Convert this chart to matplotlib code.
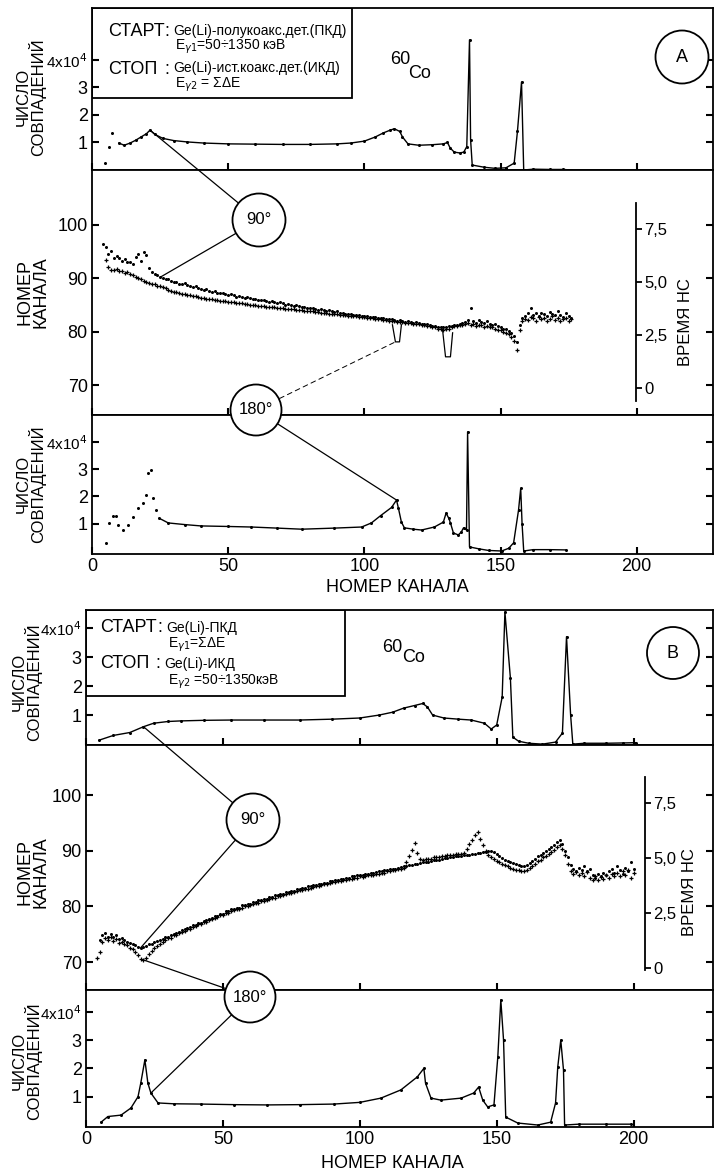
import numpy as np
import matplotlib
matplotlib.use('Agg')
import matplotlib.pyplot as plt
from matplotlib.patches import Circle, Rectangle, ConnectionPatch

plt.rcParams['font.family'] = ['Liberation Sans', 'DejaVu Sans']

W, H = 717, 1176

# ---------------- data ----------------
# panel A, upper: coincidence counts (x10^4) vs channel, 90 deg
a90_cnt_ch = [4.8, 6.3, 7.4, 9.9, 11.8, 14, 16, 18, 20, 21.3, 23, 26, 30, 35, 41, 50, 60, 70,
              80, 90, 95, 100, 104, 107, 109.5, 111, 113, 114, 116, 120, 125, 129, 130.5,
              131.5, 133, 135, 136.5, 137.6, 138.6, 139.0, 139.6, 144, 148, 152, 155, 156.2,
              157.7, 158.5, 162, 168, 173, 176]
a90_cnt = [0.25, 0.85, 1.35, 0.98, 0.9, 0.98, 1.08, 1.2, 1.32, 1.45, 1.3, 1.15, 1.07, 1.02,
           0.98, 0.95, 0.94, 0.93, 0.93, 0.95, 0.98, 1.05, 1.2, 1.35, 1.45, 1.5, 1.4, 1.2,
           0.95, 0.9, 0.92, 0.95, 1.0, 0.8, 0.65, 0.62, 0.65, 0.85, 4.73, 1.1, 0.18, 0.1,
           0.06, 0.08, 0.25, 1.4, 3.2, 0.0, 0.03, 0.02, 0.02, 0.0]

# panel A, lower: coincidence counts, 180 deg
a180_cnt_ch = [5.1, 6.3, 7.6, 8.8, 9.5, 11.3, 13.1, 15.0, 16.8, 18.7, 19.8, 20.5, 21.7, 22.4,
               23.5, 24.7, 28, 34, 40, 50, 58.5, 68, 77, 89, 99, 102.6, 106, 110, 111.8,
               112.5, 113.6, 114.7, 118, 121, 125.7, 129, 130, 131, 131.6, 132.7, 134.5,
               135.6, 136.4, 137.5, 137.9, 138.6, 142, 145.6, 150.4, 153, 154.8, 156.6,
               157.4, 157.9, 158.5, 162, 168, 174]
a180_cnt = [0.3, 1.03, 1.3, 1.3, 0.95, 0.77, 0.95, 1.25, 1.57, 1.75, 2.05, 2.85, 2.97, 1.95,
            1.5, 1.2, 1.03, 0.97, 0.92, 0.9, 0.88, 0.84, 0.8, 0.84, 0.88, 1.03, 1.3, 1.6,
            1.87, 1.57, 1.06, 0.85, 0.8, 0.77, 0.88, 1.06, 1.39, 1.2, 1.03, 0.66, 0.59, 0.7,
            0.85, 0.77, 4.37, 0.15, 0.08, 0.02, 0.0, 0.1, 0.3, 1.5, 2.3, 1.0, 0.0, 0.05,
            0.05, 0.04]

# panel A, middle: channel number of time peak vs channel
a90_t_start = 4
a90_t = [96.5, 95.8, 94.5, 95.2, 93.9, 94.2, 93.8, 93.3, 93.6, 93.1,
         93.0, 92.6, 94.0, 94.6, 93.2, 95.0, 94.4, 92.0, 91.2, 90.8,
         90.6, 90.2, 90.0, 89.9, 89.8, 89.5, 89.3, 89.4, 89.0, 88.9,
         89.1, 88.8, 88.5, 88.4, 88.6, 88.1, 88.0, 87.9, 88.0, 87.6,
         87.5, 87.6, 87.3, 87.2, 87.3, 87.0, 86.9, 87.0, 86.8, 86.6,
         86.7, 86.5, 86.4, 86.5, 86.3, 86.1, 86.2, 86.0, 85.9, 86.0,
         85.8, 85.6, 85.7, 85.5, 85.4, 85.5, 85.3, 85.1, 85.2, 85.0,
         84.9, 85.0, 84.8, 84.6, 84.7, 84.5, 84.4, 84.5, 84.2, 84.1,
         84.2, 84.0, 83.9, 84.0, 83.8, 83.7, 83.8, 83.5, 83.6, 83.4,
         83.3, 83.4, 83.2, 83.1, 83.2, 83.0, 82.9, 83.0, 82.8, 82.7,
         82.8, 82.6, 82.5, 82.6, 82.4, 82.3, 82.4, 82.2, 82.1, 82.2,
         82.0, 81.9, 82.0, 81.8, 81.7, 81.8, 81.6, 81.5, 81.4, 81.5,
         81.2, 81.1, 81.0, 80.9, 80.8, 80.9, 80.8, 81.0, 81.1, 81.3,
         81.2, 81.4, 81.6, 81.8, 82.2, 84.5, 82.0, 81.7, 82.2, 81.9,
         81.6, 82.0, 81.5, 81.3, 81.4, 81.0, 80.9, 80.6, 80.5, 80.2,
         79.8, 79.2, 78.0, 81.2, 82.6, 83.0, 83.6, 84.4, 83.2, 83.5,
         82.9, 83.6, 83.3, 83.0, 83.7, 83.4, 83.1, 83.8, 83.2, 82.8,
         83.5, 82.9, 82.6]
a180_t_start = 5
a180_t = [93.4, 92.2, 91.5, 91.6, 91.8, 91.3, 91.4, 91.0, 91.1, 90.8,
          90.6, 90.3, 90.0, 89.8, 89.5, 89.4, 89.2, 89.0, 88.9, 88.6,
          88.5, 88.3, 88.1, 87.9, 87.7, 87.5, 87.5, 87.3, 87.1, 87.1,
          86.9, 86.8, 86.7, 86.7, 86.5, 86.4, 86.4, 86.2, 86.1, 86.1,
          85.9, 85.9, 85.8, 85.7, 85.7, 85.6, 85.5, 85.5, 85.4, 85.4,
          85.3, 85.2, 85.2, 85.1, 85.0, 85.0, 84.9, 84.9, 84.8, 84.7,
          84.7, 84.6, 84.6, 84.5, 84.5, 84.4, 84.3, 84.3, 84.2, 84.2,
          84.1, 84.0, 84.0, 83.9, 83.9, 83.8, 83.8, 83.7, 83.7, 83.6,
          83.5, 83.5, 83.4, 83.4, 83.3, 83.3, 83.2, 83.2, 83.1, 83.0,
          83.0, 82.9, 82.9, 82.8, 82.7, 82.7, 82.6, 82.6, 82.5, 82.4,
          82.4, 82.3, 82.2, 82.2, 82.1, 82.0, 82.0, 81.9, 81.9, 81.8,
          81.7, 81.7, 81.6, 81.5, 81.5, 81.4, 81.3, 81.2, 81.1, 81.0,
          80.9, 80.8, 80.6, 80.5, 80.4, 80.5, 80.6, 80.8, 81.0, 81.1,
          81.2, 81.3, 81.5, 81.6, 81.2, 81.5, 81.0, 81.3, 81.2, 80.9,
          81.1, 80.8, 80.9, 80.6, 80.4, 80.3, 80.0, 79.8, 79.5, 79.0,
          78.3, 76.6, 80.4, 82.0, 82.4, 82.2, 82.8, 82.5, 82.1, 82.7,
          82.3, 82.6, 82.0, 82.4, 82.9, 82.2, 82.5, 82.0, 82.3, 82.6,
          82.1, 82.4]
# the two V-shaped dips drawn as lines
a_dip1_ch = [110.3, 111.4, 112.9, 113.6]
a_dip1_t = [81.3, 78.1, 78.1, 81.3]
a_dip2_ch = [128.7, 129.8, 131.6, 132.4]
a_dip2_t = [80.4, 75.3, 75.3, 79.8]

# panel B, upper: coincidence counts, 90 deg
b90_cnt_ch = [4.9, 10, 16, 21, 24.7, 30, 34.6, 43, 53, 65, 78, 90, 100, 107, 112, 116, 120,
              123, 124.7, 126.6, 130.7, 136, 140.7, 145.5, 148, 150, 152, 153, 155, 155.9,
              158, 161.7, 166.7, 171.5, 174, 175.5, 177, 177.8, 182, 190, 196, 201]
b90_cnt = [0.14, 0.3, 0.4, 0.6, 0.72, 0.78, 0.8, 0.82, 0.83, 0.83, 0.83, 0.86, 0.9, 1.0, 1.1,
           1.24, 1.33, 1.4, 1.28, 1.0, 0.9, 0.86, 0.83, 0.72, 0.52, 0.66, 1.62, 4.55, 2.28,
           0.24, 0.1, 0.03, 0.0, 0.07, 0.38, 3.7, 1.0, 0.0, 0.03, 0.03, 0.04, 0.05]

# panel B, lower: coincidence counts, 180 deg
b180_cnt_ch = [5.5, 8, 12.8, 16.4, 19, 20, 21.5, 22.6, 23.7, 26.3, 32, 42, 54, 66, 78, 90.5,
               100, 107.7, 115, 121, 123.4, 124, 126, 129.6, 137, 141.6, 143.4, 144.9, 146.7,
               149, 150.4, 151.5, 152.5, 153.3, 157.7, 165, 169.7, 171.5, 172.3, 173.4,
               174.4, 174.8, 180, 190, 199]
b180_cnt = [0.1, 0.3, 0.35, 0.6, 1.0, 1.48, 2.3, 1.48, 1.13, 0.78, 0.75, 0.74, 0.72, 0.71,
            0.72, 0.74, 0.8, 0.95, 1.24, 1.7, 2.0, 1.48, 0.95, 0.88, 0.95, 1.13, 1.34, 0.88,
            0.64, 0.71, 2.4, 4.42, 3.0, 0.28, 0.07, 0.0, 0.1, 0.78, 2.05, 3.0, 1.94, 0.0,
            0.03, 0.03, 0.03]

# panel B, middle
b90_t_start = 5
b90_t = [74.0, 74.9, 75.3, 74.6, 75.1, 74.5, 74.8, 74.2, 74.4, 73.9,
         73.7, 73.5, 73.2, 73.0, 72.8, 72.6, 72.8, 72.9, 73.2, 73.3,
         73.6, 73.8, 74.0, 74.2, 74.5, 74.6, 74.9, 75.0, 75.3, 75.4,
         75.7, 75.9, 76.1, 76.3, 76.6, 76.7, 77.0, 77.1, 77.4, 77.5,
         77.8, 77.9, 78.3, 78.3, 78.7, 78.7, 79.1, 79.1, 79.5, 79.5,
         79.8, 79.8, 80.2, 80.2, 80.5, 80.5, 80.8, 80.8, 81.1, 81.1,
         81.4, 81.4, 81.7, 81.7, 82.0, 82.0, 82.3, 82.3, 82.6, 82.6,
         82.8, 82.8, 83.1, 83.1, 83.4, 83.4, 83.6, 83.6, 83.9, 83.9,
         84.1, 84.1, 84.3, 84.3, 84.6, 84.6, 84.8, 84.8, 85.0, 85.0,
         85.2, 85.2, 85.4, 85.4, 85.6, 85.6, 85.7, 85.8, 85.9, 86.0,
         86.1, 86.2, 86.3, 86.4, 86.5, 86.6, 86.7, 86.8, 86.8, 87.0,
         87.1, 87.2, 87.2, 87.4, 87.5, 87.6, 87.6, 87.8, 87.9, 88.0,
         88.0, 88.2, 88.3, 88.4, 88.4, 88.6, 88.7, 88.7, 88.8, 88.9,
         89.0, 89.0, 89.1, 89.2, 89.3, 89.3, 89.4, 89.5, 89.6, 89.6,
         89.7, 89.8, 89.9, 90.0, 89.8, 89.5, 89.1, 88.7, 88.4, 88.2,
         88.0, 87.8, 87.6, 87.4, 87.3, 87.2, 87.4, 87.8, 88.2, 88.6,
         89.0, 89.3, 89.6, 89.9, 90.3, 90.7, 91.1, 91.5, 91.9, 91.2,
         90.0, 88.8, 87.4, 86.8, 86.4, 86.9, 86.6, 87.2, 86.3, 86.7,
         85.6, 85.2, 85.9, 85.4, 86.1, 85.7, 86.3, 86.8, 86.0, 87.2,
         86.5, 85.9, 87.0, 86.4, 88.0, 86.8]
b180_t_start = 4
b180_t = [70.7, 71.8, 73.6, 74.4, 74.0, 74.6, 73.8, 74.1, 73.5, 73.7,
          73.2, 73.0, 72.6, 72.3, 71.8, 71.2, 70.6, 70.4, 70.7, 71.4,
          72.0, 72.5, 72.9, 73.3, 73.6, 73.9, 74.3, 74.4, 74.8, 74.9,
          75.2, 75.4, 75.6, 75.9, 76.0, 76.4, 76.5, 76.8, 76.9, 77.2,
          77.3, 77.6, 77.7, 78.0, 78.1, 78.4, 78.5, 78.8, 78.9, 79.2,
          79.3, 79.5, 79.6, 79.8, 80.0, 80.1, 80.3, 80.4, 80.6, 80.7,
          80.9, 81.0, 81.2, 81.3, 81.5, 81.6, 81.8, 81.9, 82.1, 82.2,
          82.4, 82.4, 82.6, 82.7, 82.9, 83.0, 83.2, 83.2, 83.4, 83.5,
          83.7, 83.7, 83.9, 84.0, 84.1, 84.2, 84.4, 84.4, 84.6, 84.6,
          84.8, 84.8, 85.0, 85.0, 85.2, 85.2, 85.4, 85.3, 85.5, 85.6,
          85.7, 85.7, 85.9, 85.9, 86.1, 86.1, 86.3, 86.3, 86.5, 86.5,
          86.7, 86.7, 86.9, 88.0, 89.0, 90.2, 91.4, 89.6, 88.6, 88.3,
          88.5, 88.6, 88.6, 88.8, 88.9, 88.9, 89.1, 89.1, 89.2, 89.3,
          89.3, 89.4, 89.5, 89.5, 89.6, 90.4, 91.2, 92.0, 92.8, 93.4,
          92.2, 91.0, 89.9, 89.2, 88.8, 88.5, 88.2, 87.9, 87.6, 87.4,
          87.2, 87.0, 86.8, 86.6, 86.5, 86.3, 86.4, 86.5, 86.9, 87.3,
          87.7, 88.1, 88.4, 88.8, 89.1, 89.5, 89.8, 90.2, 90.6, 91.0,
          90.4, 89.2, 87.6, 86.4, 85.8, 86.2, 85.7, 86.0, 85.5, 86.2,
          85.1, 84.8, 85.4, 84.7, 85.3, 84.9, 85.6, 85.2, 85.9, 85.5,
          86.1, 85.4, 86.3, 85.7, 86.6, 85.2, 86.0]

x_ticks = [0, 50, 100, 150, 200]
cnt_ticks = [1, 2, 3, 4]
cnt_labels = ['1', '2', '3', '4x10$^{4}$']
ch_ticks = [70, 80, 90, 100]
t_ticks = [0, 2.5, 5.0, 7.5]
t_labels = ['0', '2,5', '5,0', '7,5']


# ---------------- helpers ----------------
def box(l, t, r, b):
    return [l / W, 1 - b / H, (r - l) / W, (b - t) / H]


def fx(x):
    return x / W


def fy(y):
    return 1 - y / H


def inch(x, y):
    return (x / 100, (H - y) / 100)


def pick(xs, ys, c):
    xs = np.asarray(xs, float)
    i = int(np.argmin(np.abs(xs - c)))
    return (xs[i], ys[i])


def style(ax, xlim):
    for s in ax.spines.values():
        s.set_linewidth(1.3)
    ax.set_xlim(*xlim)
    ax.set_xticks(x_ticks)
    ax.tick_params(direction='in', length=5, width=1.5, labelsize=13, pad=3,
                   right=True, top=False)


def counts(ax, ch, cnt, line_from):
    ch = np.asarray(ch, float)
    cnt = np.asarray(cnt, float)
    m = ch >= line_from
    ax.plot(ch[m], cnt[m], '-', color='k', lw=1.0)
    ax.plot(ch, cnt, 'o', color='k', ms=2.2, mew=0)
    ax.set_yticks(cnt_ticks, labels=cnt_labels)
    ax.get_yticklabels()[-1].set_fontsize(11)


def times(ax, start90, v90, start180, v180):
    ax.plot(np.arange(start90, start90 + len(v90)), v90, 'o', color='k', ms=2.2, mew=0)
    ax.plot(np.arange(start180, start180 + len(v180)), v180, '+', color='k', ms=3.2, mew=0.9)
    ax.set_yticks(ch_ticks)


def time_axis(ax, loc, c0, k, bounds):
    sec = ax.secondary_yaxis(loc, functions=(lambda c: (c - c0) * k, lambda t: t / k + c0))
    sec.set_ticks(t_ticks, labels=t_labels)
    sec.spines['right'].set_bounds(*bounds)
    sec.spines['right'].set_linewidth(1.3)
    sec.tick_params(direction='out', length=4, width=1.3, labelsize=12, pad=2)
    return sec


def badge(x, y, r, txt, size):
    fig.add_artist(Circle(inch(x, y), r, transform=fig.dpi_scale_trans, fc='white',
                          ec='k', lw=1.3, zorder=5))
    fig.text(fx(x), fy(y), txt, ha='center', va='center', fontsize=size, zorder=6)


def connect(x, y, ax, pt, dashed=False):
    cp = ConnectionPatch(xyA=inch(x, y), coordsA=fig.dpi_scale_trans, xyB=pt,
                         coordsB=ax.transData, color='k',
                         lw=0.7 if dashed else 0.9,
                         ls=(0, (5, 4)) if dashed else '-', zorder=4)
    fig.add_artist(cp)


fig = plt.figure(figsize=(W / 100, H / 100), dpi=100)

# ---------------- panel A ----------------
axA1 = fig.add_axes(box(92, 8, 713, 170))
axA2 = fig.add_axes(box(92, 170, 713, 415))
axA3 = fig.add_axes(box(92, 415, 713, 554))
for ax in (axA1, axA2, axA3):
    style(ax, (0, 228))
axA1.tick_params(labelbottom=False)
axA2.tick_params(labelbottom=False)

counts(axA1, a90_cnt_ch, a90_cnt, 9.0)
axA1.set_ylim(0, 5.89)
counts(axA3, a180_cnt_ch, a180_cnt, 24.0)
axA3.set_ylim(-0.11, 4.99)
times(axA2, a90_t_start, a90_t, a180_t_start, a180_t)
axA2.plot(a_dip1_ch, a_dip1_t, '-', color='k', lw=0.9)
axA2.plot(a_dip2_ch, a_dip2_t, '-', color='k', lw=0.9)
axA2.set_ylim(64.4, 110.3)
time_axis(axA2, (636 - 92) / 621, 69.44, 0.251, (-0.6, 8.7))

axA1.add_patch(Rectangle((0, 1 - 90 / 162), 260 / 621, 90 / 162, transform=axA1.transAxes,
                         fill=False, lw=1.3, ec='k'))

# ---------------- panel B ----------------
axB1 = fig.add_axes(box(86, 610, 713, 745))
axB2 = fig.add_axes(box(86, 745, 713, 990))
axB3 = fig.add_axes(box(86, 990, 713, 1127))
for ax in (axB1, axB2, axB3):
    style(ax, (0, 229))
axB1.tick_params(labelbottom=False)
axB2.tick_params(labelbottom=False)

counts(axB1, b90_cnt_ch, b90_cnt, 0)
axB1.set_ylim(-0.03, 4.62)
counts(axB3, b180_cnt_ch, b180_cnt, 0)
axB3.set_ylim(-0.07, 4.77)
times(axB2, b90_t_start, b90_t, b180_t_start, b180_t)
axB2.set_ylim(65.0, 109.0)
time_axis(axB2, (645 - 86) / 627, 68.9, 0.253, (-0.1, 8.7))

axB1.add_patch(Rectangle((0, 1 - 86 / 135), 259 / 627, 86 / 135, transform=axB1.transAxes,
                         fill=False, lw=1.3, ec='k'))

# ---------------- labels ----------------
for xc, yc in ((31, 97), (31, 484), (27, 682), (27, 1061)):
    fig.text(fx(xc), fy(yc), 'ЧИСЛО\nСОВПАДЕНИЙ', rotation=90, ha='center', va='center',
             fontsize=12, linespacing=0.85, multialignment='center')
for yc in (292, 872):
    fig.text(fx(33), fy(yc), 'НОМЕР\nКАНАЛА', rotation=90, ha='center', va='center',
             fontsize=13, linespacing=0.85, multialignment='center')
fig.text(fx(686), fy(322), 'ВРЕМЯ НС', rotation=90, ha='center', va='center', fontsize=12)
fig.text(fx(690), fy(892), 'ВРЕМЯ НС', rotation=90, ha='center', va='center', fontsize=12)
fig.text(fx(397), fy(588), 'НОМЕР КАНАЛА', ha='center', va='center', fontsize=13)
fig.text(fx(392), fy(1163), 'НОМЕР КАНАЛА', ha='center', va='center', fontsize=13)

# isotope
fig.text(fx(390), fy(60), '60', ha='left', va='center', fontsize=13)
fig.text(fx(408), fy(73), 'Co', ha='left', va='center', fontsize=13)
fig.text(fx(382), fy(648), '60', ha='left', va='center', fontsize=13)
fig.text(fx(402), fy(658), 'Co', ha='left', va='center', fontsize=13)

# legend boxes
fig.text(fx(108), fy(31), 'СТАРТ', ha='left', va='center', fontsize=13)
fig.text(fx(164), fy(31), ':', ha='left', va='center', fontsize=13)
fig.text(fx(173), fy(31), 'Ge(Li)-полукоакс.дет.(ПКД)', ha='left', va='center', fontsize=10)
fig.text(fx(175), fy(47), r'E$_{\gamma 1}$=50÷1350 кэВ', ha='left', va='center', fontsize=10)
fig.text(fx(108), fy(69), 'СТОП', ha='left', va='center', fontsize=13)
fig.text(fx(164), fy(69), ':', ha='left', va='center', fontsize=13)
fig.text(fx(173), fy(68), 'Ge(Li)-ист.коакс.дет.(ИКД)', ha='left', va='center', fontsize=10)
fig.text(fx(175), fy(85), r'E$_{\gamma 2}$ = ΣΔE', ha='left', va='center', fontsize=10)

fig.text(fx(100), fy(627), 'СТАРТ', ha='left', va='center', fontsize=13)
fig.text(fx(157), fy(627), ':', ha='left', va='center', fontsize=13)
fig.text(fx(166), fy(628), 'Ge(Li)-ПКД', ha='left', va='center', fontsize=10)
fig.text(fx(168), fy(645), r'E$_{\gamma 1}$=ΣΔE', ha='left', va='center', fontsize=10)
fig.text(fx(100), fy(664), 'СТОП', ha='left', va='center', fontsize=13)
fig.text(fx(155), fy(664), ':', ha='left', va='center', fontsize=13)
fig.text(fx(164), fy(664), 'Ge(Li)-ИКД', ha='left', va='center', fontsize=10)
fig.text(fx(168), fy(682), r'E$_{\gamma 2}$ =50÷1350кэВ', ha='left', va='center', fontsize=10)

# ---------------- angle badges and leader lines ----------------
a90_ch = np.arange(a90_t_start, a90_t_start + len(a90_t))
b90_ch = np.arange(b90_t_start, b90_t_start + len(b90_t))
b180_ch = np.arange(b180_t_start, b180_t_start + len(b180_t))

connect(259, 220, axA1, pick(a90_cnt_ch, a90_cnt, 21.3))
connect(259, 220, axA2, pick(a90_ch, a90_t, 25))
connect(256, 410, axA2, (a_dip1_ch[1], a_dip1_t[1]), dashed=True)
connect(256, 410, axA3, pick(a180_cnt_ch, a180_cnt, 111.8))
connect(253, 820, axB1, pick(b90_cnt_ch, b90_cnt, 21))
connect(253, 820, axB2, pick(b90_ch, b90_t, 20))
connect(250, 997, axB2, pick(b180_ch, b180_t, 21))
connect(250, 997, axB3, pick(b180_cnt_ch, b180_cnt, 23.7))

badge(259, 220, 0.265, '90°', 12)
badge(256, 410, 0.255, '180°', 12)
badge(253, 820, 0.265, '90°', 12)
badge(250, 997, 0.255, '180°', 12)
badge(682, 57, 0.265, 'A', 13)
badge(673, 653, 0.26, 'B', 13)

fig.savefig('out.png', dpi=100)
